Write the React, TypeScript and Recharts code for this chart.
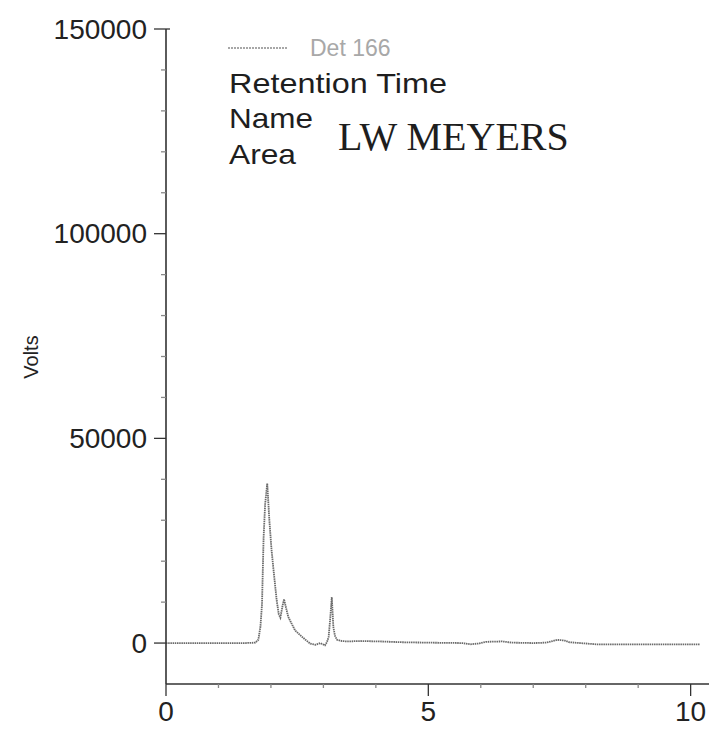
import React from "react";
import { LineChart, Line, XAxis, YAxis } from "recharts";

// Detector trace: retention time (min) and detector response
const times = [
  0, 0.5, 1.0, 1.5, 1.7, 1.76, 1.8, 1.83, 1.86, 1.89, 1.93, 1.97, 2.01, 2.05,
  2.11, 2.15, 2.18, 2.22, 2.25, 2.29, 2.33, 2.4, 2.46, 2.56, 2.65, 2.75, 2.85,
  2.94, 3.03, 3.07, 3.1, 3.13, 3.16, 3.19, 3.22, 3.26, 3.35, 3.45, 3.7, 4.08,
  4.5, 5.0, 5.65, 5.8, 5.97, 6.1, 6.41, 6.6, 7.0, 7.25, 7.46, 7.6, 7.69, 8.2,
  9.0, 10.17,
];
const volts = [
  0, 0, 0, 0, 100, 800, 4000, 9500, 25700, 34000, 39000, 30000, 23000, 17800,
  10400, 7000, 6200, 9000, 10700, 8500, 6400, 4600, 3100, 1900, 900, -150, -400,
  0, -560, 300, 1500, 6000, 11250, 3900, 1800, 800, 500, 400, 500, 400,
  200, 100, 0, -300, -100, 300, 400, 100, 0, 100, 800, 600, 200, -300,
  -300, -300,
];

const xTicks = [0, 1, 2, 3, 4, 5, 6, 7, 8, 9, 10];
const xLabelled = [0, 5, 10];
const yTicks = [
  0, 10000, 20000, 30000, 40000, 50000, 60000, 70000, 80000, 90000, 100000,
  110000, 120000, 130000, 140000, 150000,
];
const yLabelled = [0, 50000, 100000, 150000];

const seriesName = "Det 166";
const legendRows = ["Retention Time", "Name", "Area"];
const sampleName = "LW MEYERS";

const data = times.map((t, i) => ({ t, v: volts[i] }));

const SANS = "'Liberation Sans', Arial, sans-serif";
const SERIF = "'Liberation Serif', 'Times New Roman', serif";
const AXIS = "#333";

const YTick = (props: any) => {
  const { x, y, payload } = props;
  const val = payload.value as number;
  const major = yLabelled.includes(val);
  const isTop = val === yTicks[yTicks.length - 1];
  return (
    <g>
      <line
        x1={major ? x - 12 : x - 5}
        x2={isTop ? x + 4 : x}
        y1={y}
        y2={y}
        stroke={major ? AXIS : "#888"}
        strokeWidth={1.3}
      />
      {major && (
        <text
          x={x - 19}
          y={y}
          textAnchor="end"
          dominantBaseline="central"
          fontFamily={SANS}
          fontSize={28}
          fill="#222"
        >
          {val}
        </text>
      )}
    </g>
  );
};

const XTick = (props: any) => {
  const { x, y, payload } = props;
  const val = payload.value as number;
  const major = xLabelled.includes(val);
  return (
    <g>
      <line
        x1={x}
        x2={x}
        y1={y}
        y2={major ? y + 12 : y + 4}
        stroke={major ? AXIS : "#888"}
        strokeWidth={1.3}
      />
      {major && (
        <text
          x={x}
          y={y + 37}
          textAnchor="middle"
          fontFamily={SANS}
          fontSize={28}
          fill="#222"
        >
          {val}
        </text>
      )}
    </g>
  );
};

export default function App() {
  return (
    <div
      style={{
        position: "absolute",
        left: 0,
        top: 0,
        width: 709,
        height: 731,
        background: "#fff",
      }}
    >
      <LineChart
        width={709}
        height={731}
        data={data}
        margin={{ top: 29, right: 0, bottom: 0, left: 0 }}
      >
        <XAxis
          dataKey="t"
          type="number"
          domain={[0, 10.35]}
          ticks={xTicks}
          interval={0}
          height={47}
          tickSize={0}
          tickMargin={0}
          tickLine={false}
          axisLine={{ stroke: AXIS, strokeWidth: 1.6 }}
          tick={<XTick />}
        />
        <YAxis
          type="number"
          domain={[-10000, 150000]}
          ticks={yTicks}
          interval={0}
          width={166}
          tickSize={0}
          tickMargin={0}
          tickLine={false}
          axisLine={{ stroke: AXIS, strokeWidth: 1.6 }}
          tick={<YTick />}
          allowDataOverflow
        />
        <Line
          dataKey="v"
          type="linear"
          stroke="#6a6a6a"
          strokeWidth={1.8}
          strokeDasharray="1.5 0.7"
          dot={false}
          isAnimationActive={false}
        />
      </LineChart>
      <svg
        width={709}
        height={731}
        style={{ position: "absolute", left: 0, top: 0, pointerEvents: "none" }}
      >
        <text
          x={31}
          y={357}
          transform="rotate(-90 31 357)"
          textAnchor="middle"
          dominantBaseline="central"
          fontFamily={SANS}
          fontSize={20}
          fill="#222"
        >
          Volts
        </text>
        <line
          x1={228}
          x2={288}
          y1={48}
          y2={48}
          stroke="#8a8a8a"
          strokeWidth={1.3}
          strokeDasharray="2 1"
        />
        <text x={310} y={56} fontFamily={SANS} fontSize={23} fill="#a8a8a8">
          {seriesName}
        </text>
        <text
          x={229}
          y={93}
          fontFamily={SANS}
          fontSize={28}
          fill="#1e1e1e"
          textLength={218}
          lengthAdjust="spacingAndGlyphs"
        >
          {legendRows[0]}
        </text>
        <text
          x={229}
          y={128}
          fontFamily={SANS}
          fontSize={28}
          fill="#1e1e1e"
          textLength={84}
          lengthAdjust="spacingAndGlyphs"
        >
          {legendRows[1]}
        </text>
        <text
          x={229}
          y={164}
          fontFamily={SANS}
          fontSize={28}
          fill="#1e1e1e"
          textLength={67}
          lengthAdjust="spacingAndGlyphs"
        >
          {legendRows[2]}
        </text>
        <text x={338} y={150} fontFamily={SERIF} fontSize={40} fill="#1e1e1e">
          {sampleName}
        </text>
      </svg>
    </div>
  );
}
